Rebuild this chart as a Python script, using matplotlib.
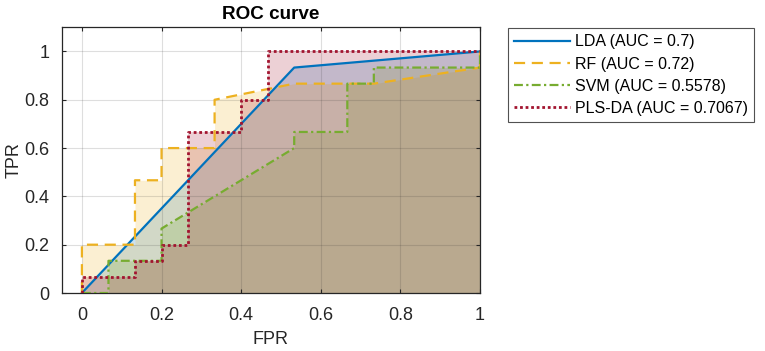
import matplotlib
matplotlib.use("Agg")
import matplotlib.pyplot as plt

plt.rcParams['font.family'] = ['Liberation Sans', 'DejaVu Sans']

# Data (FPR, TPR)
lda_fpr = [0, 0.5333, 1]
lda_tpr = [0, 0.9333, 1]

rf_fpr = [0, 0, 0.1333, 0.1333, 0.2, 0.2, 0.3333, 0.3333, 0.5333, 0.7333, 1, 1]
rf_tpr = [0, 0.2, 0.2, 0.4667, 0.4667, 0.6, 0.6, 0.8, 0.8667, 0.8667, 0.9333, 1]

svm_fpr = [0, 0.0667, 0.0667, 0.2, 0.2, 0.5333, 0.5333, 0.6667, 0.6667, 0.7333, 0.7333, 1, 1]
svm_tpr = [0, 0, 0.1333, 0.1333, 0.2667, 0.6, 0.6667, 0.6667, 0.8667, 0.8667, 0.9333, 0.9333, 1]

pls_fpr = [0, 0, 0.1333, 0.1333, 0.2, 0.2, 0.2667, 0.2667, 0.4, 0.4, 0.4667, 0.4667, 1]
pls_tpr = [0, 0.0667, 0.0667, 0.1333, 0.1333, 0.2, 0.2, 0.6667, 0.6667, 0.8, 0.8, 1, 1]

labels = ['LDA (AUC = 0.7)', 'RF (AUC = 0.72)', 'SVM (AUC = 0.5578)', 'PLS-DA (AUC = 0.7067)']
colors = ['#0072BD', '#EDB120', '#77AC30', '#A2142F']

xticks = [0, 0.2, 0.4, 0.6, 0.8, 1]
xticklabels = ['0', '0.2', '0.4', '0.6', '0.8', '1']
yticks = [0, 0.2, 0.4, 0.6, 0.8, 1]
yticklabels = ['0', '0.2', '0.4', '0.6', '0.8', '1']

fig = plt.figure(figsize=(7.65, 3.51), dpi=100)
ax = fig.add_axes([62/765, 1-293/351, (480-62)/765, (293-27.3)/351])

series = [(lda_fpr, lda_tpr), (rf_fpr, rf_tpr), (svm_fpr, svm_tpr), (pls_fpr, pls_tpr)]
for (fx, ty), c in zip(series, colors):
    ax.fill_between(fx, ty, 0, color=c, alpha=0.2, linewidth=0, zorder=1)

styles = [dict(linestyle='-', linewidth=1.6),
          dict(linestyle=(0, (5, 3)), linewidth=1.6),
          dict(linestyle=(0, (4, 1.5, 1, 1.5)), linewidth=1.6),
          dict(linestyle=(0, (1, 1)), linewidth=2.0)]
handles = []
for (fx, ty), c, st, lab in zip(series, colors, styles, labels):
    h, = ax.plot(fx, ty, color=c, label=lab, zorder=3, **st)
    handles.append(h)

ax.set_xlim(-0.05, 1)
ax.set_ylim(0, 1.1)
ax.set_xticks(xticks)
ax.set_xticklabels(xticklabels)
ax.set_yticks(yticks)
ax.set_yticklabels(yticklabels)
ax.grid(True, color='#262626', alpha=0.15, linewidth=0.8, zorder=2)
ax.set_axisbelow(False)
ax.tick_params(direction='in', top=True, right=True, length=3, width=0.8,
               labelsize=13, colors='#262626')
ax.tick_params(axis='x', pad=10)
ax.tick_params(axis='y', pad=9)
for sp in ax.spines.values():
    sp.set_color('#262626')
    sp.set_linewidth(0.9)

ax.set_xlabel('FPR', fontsize=13, color='#262626', labelpad=5)
ax.set_ylabel('TPR', fontsize=13, color='#262626', labelpad=1)
ax.set_title('ROC curve', fontsize=13.6, fontweight='bold', color='black', pad=6)

leg = fig.legend(handles=handles, loc='upper left', bbox_to_anchor=(508/765, 1-28/351),
                 fontsize=11.5, frameon=True, fancybox=False, handlelength=3.5,
                 handletextpad=0.3, borderpad=0.4, labelspacing=0.45, borderaxespad=0)
leg.get_frame().set_edgecolor('#262626')
leg.get_frame().set_linewidth(0.8)

fig.savefig('out.png', dpi=100)
